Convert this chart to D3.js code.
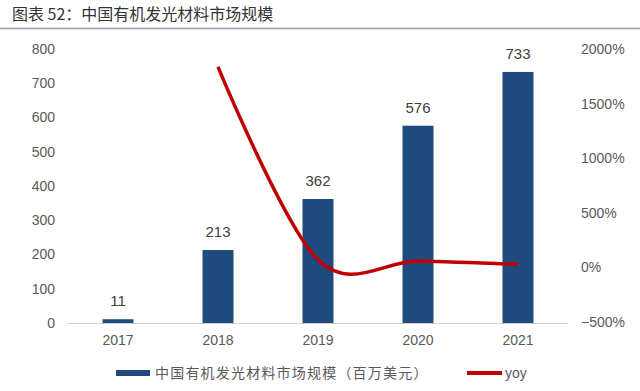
<!DOCTYPE html>
<html>
<head>
<meta charset="utf-8">
<script src="https://cdn.jsdelivr.net/npm/d3@7"></script>
<style>
  html, body { margin: 0; padding: 0; background: #fff; }
  svg { display: block; }
</style>
</head>
<body>
<svg id="chart" width="640" height="391"></svg>
<script>
var years = ['2017', '2018', '2019', '2020', '2021'];
var marketSize = [11, 213, 362, 576, 733];
var yoy = [null, 1836, 70, 59, 27];
var leftTicks = [0, 100, 200, 300, 400, 500, 600, 700, 800];
var rightTicks = [-500, 0, 500, 1000, 1500, 2000];

var barColor = '#1F4A7E';
var lineColor = '#C00000';
var textColor = '#595959';
var cjk = '"Noto Sans CJK SC", sans-serif';
var latin = 'Arial, "Liberation Sans", sans-serif';

var svg = d3.select('#chart');

// title + rule
svg.append('text')
  .attr('x', 12)
  .attr('y', 20)
  .attr('fill', '#333')
  .attr('font-size', '16px')
  .attr('font-family', cjk)
  .text('图表 52：中国有机发光材料市场规模');

svg.append('line')
  .attr('x1', 0).attr('x2', 640)
  .attr('y1', 28.5).attr('y2', 28.5)
  .attr('stroke', '#9a9aa8')
  .attr('stroke-width', 1.5);

var x = d3.scaleBand().domain(years).range([68, 568]).paddingInner(0.69).paddingOuter(0.345);
var yL = d3.scaleLinear().domain([0, 800]).range([323, 49]);
var yR = d3.scaleLinear().domain([-500, 2000]).range([322, 49]);

// baseline
svg.append('line')
  .attr('x1', 68).attr('x2', 568)
  .attr('y1', yL(0) + 0.5).attr('y2', yL(0) + 0.5)
  .attr('stroke', '#d0d0d0');

// left axis labels
svg.append('g').selectAll('text').data(leftTicks).enter().append('text')
  .attr('x', 55)
  .attr('y', function (d) { return yL(d); })
  .attr('dy', '0.35em')
  .attr('text-anchor', 'end')
  .attr('fill', textColor)
  .attr('font-size', '14px')
  .attr('font-family', latin)
  .text(function (d) { return d; });

// right axis labels
svg.append('g').selectAll('text').data(rightTicks).enter().append('text')
  .attr('x', 581)
  .attr('y', function (d) { return yR(d); })
  .attr('dy', '0.35em')
  .attr('text-anchor', 'start')
  .attr('fill', textColor)
  .attr('font-size', '14px')
  .attr('font-family', latin)
  .text(function (d) { return (d < 0 ? '\u2212' + Math.abs(d) : d) + '%'; });

// x labels
svg.append('g').selectAll('text').data(years).enter().append('text')
  .attr('x', function (d) { return x(d) + x.bandwidth() / 2; })
  .attr('y', 340)
  .attr('dy', '0.35em')
  .attr('text-anchor', 'middle')
  .attr('fill', textColor)
  .attr('font-size', '14px')
  .attr('font-family', latin)
  .text(function (d) { return d; });

// bars
svg.append('g').selectAll('rect').data(marketSize).enter().append('rect')
  .attr('x', function (d, i) { return x(years[i]); })
  .attr('y', function (d) { return yL(d); })
  .attr('width', x.bandwidth())
  .attr('height', function (d) { return yL(0) - yL(d); })
  .attr('fill', barColor);

// bar labels
svg.append('g').selectAll('text').data(marketSize).enter().append('text')
  .attr('x', function (d, i) { return x(years[i]) + x.bandwidth() / 2; })
  .attr('y', function (d) { return yL(d) - 13; })
  .attr('text-anchor', 'middle')
  .attr('fill', '#404040')
  .attr('font-size', '15px')
  .attr('font-family', latin)
  .text(function (d) { return d; });

// yoy line
var pts = [];
yoy.forEach(function (v, i) {
  if (v !== null) pts.push([x(years[i]) + x.bandwidth() / 2, yR(v)]);
});
svg.append('path')
  .attr('d', d3.line().curve(d3.curveCatmullRom.alpha(0))(pts))
  .attr('fill', 'none')
  .attr('stroke', lineColor)
  .attr('stroke-width', 3.5);

// legend
svg.append('rect')
  .attr('x', 116).attr('y', 370)
  .attr('width', 34).attr('height', 6)
  .attr('fill', barColor);
svg.append('text')
  .attr('x', 155).attr('y', 373)
  .attr('dy', '0.35em')
  .attr('fill', textColor)
  .attr('font-size', '14px')
  .attr('letter-spacing', '1.2px')
  .attr('font-family', cjk)
  .text('中国有机发光材料市场规模（百万美元）');
svg.append('line')
  .attr('x1', 467).attr('x2', 502)
  .attr('y1', 373).attr('y2', 373)
  .attr('stroke', lineColor)
  .attr('stroke-width', 4);
svg.append('text')
  .attr('x', 505).attr('y', 373)
  .attr('dy', '0.35em')
  .attr('fill', textColor)
  .attr('font-size', '14px')
  .attr('font-family', latin)
  .text('yoy');
</script>
</body>
</html>
